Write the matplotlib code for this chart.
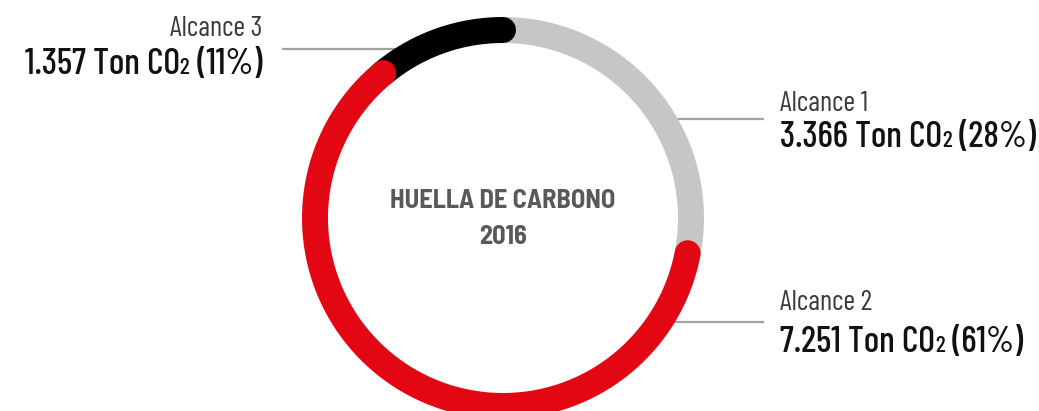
import numpy as np
import matplotlib
matplotlib.use("Agg")
import matplotlib.pyplot as plt

# Data
labels = ["Alcance 1", "Alcance 2", "Alcance 3"]
tons = ["3.366", "7.251", "1.357"]
pcts = [28, 61, 11]
colors = ["#c6c6c6", "#e30613", "#000000"]
title_lines = ["HUELLA DE CARBONO", "2016"]

FONT = ["Barlow Condensed", "DejaVu Sans"]
TITLE_FONT = ["Barlow Semi Condensed", "Barlow Condensed", "DejaVu Sans"]
W, H, DPI = 1039, 411, 100

fig = plt.figure(figsize=(W / DPI, H / DPI), dpi=DPI)
ax = fig.add_axes([0, 0, 1, 1])
ax.set_xlim(0, W)
ax.set_ylim(H, 0)
ax.set_aspect("equal")
ax.axis("off")

cx, cy, r = 503, 218, 188
ring_lw = 26 * 72 / DPI


def arc(t0, t1, n=200):
    t = np.radians(np.linspace(t0, t1, n))
    return cx + r * np.sin(t), cy - r * np.cos(t)


# leader lines (behind the ring)
lead_col = "#a3a3a3"
ax.plot([283, 400], [49, 49], color=lead_col, lw=1.6, zorder=1)
ax.plot([660, 763], [119, 119], color=lead_col, lw=1.6, zorder=1)
ax.plot([650, 763], [322, 322], color=lead_col, lw=1.6, zorder=1)

# ring segments, clockwise from top
bounds = np.concatenate([[0], np.cumsum(pcts)]) * 3.6
order = [0, 2, 1]  # gray first, then black, red on top
for i in order:
    xs, ys = arc(bounds[i], bounds[i + 1])
    cap = "butt" if i == 0 else "round"
    ax.plot(xs, ys, color=colors[i], lw=ring_lw, solid_capstyle=cap, zorder=2 + order.index(i))

# centre title
ax.text(cx, 208, title_lines[0], ha="center", va="baseline", fontsize=19,
        fontweight="bold", color="#595959", family=TITLE_FONT)
ax.text(cx, 244, title_lines[1], ha="center", va="baseline", fontsize=19,
        fontweight="bold", color="#595959", family=TITLE_FONT)

fig.canvas.draw()
renderer = fig.canvas.get_renderer()


def value_text(x, y, ton, pct, align):
    # "<ton> Ton CO" + small "2" + " (pct%)"
    parts = [(f"{ton} Ton CO", 26), ("2", 17), (f" ({pct}%)", 26)]
    objs = []
    cur = x
    for s, fs in parts:
        t = ax.text(cur, y, s, ha="left", va="baseline", fontsize=fs, color="#111111",
                    family=FONT, fontweight="medium")
        bb = t.get_window_extent(renderer)
        objs.append(t)
        cur += bb.width  # pixel == data unit here
    width = cur - x
    if align == "right":
        for t in objs:
            px, py = t.get_position()
            t.set_position((px - width, py))


label_pos = {
    0: (780, 111, 147, "left"),
    1: (780, 310, 352, "left"),
    2: (262, 36, 74, "right"),
}
for i in range(3):
    x, yl, yv, align = label_pos[i]
    ax.text(x, yl, labels[i], ha=align, va="baseline", fontsize=20.5, color="#3a3a3a",
            family=FONT, fontweight="normal")
    value_text(x, yv, tons[i], pcts[i], align)

fig.savefig("out.png", dpi=DPI)
